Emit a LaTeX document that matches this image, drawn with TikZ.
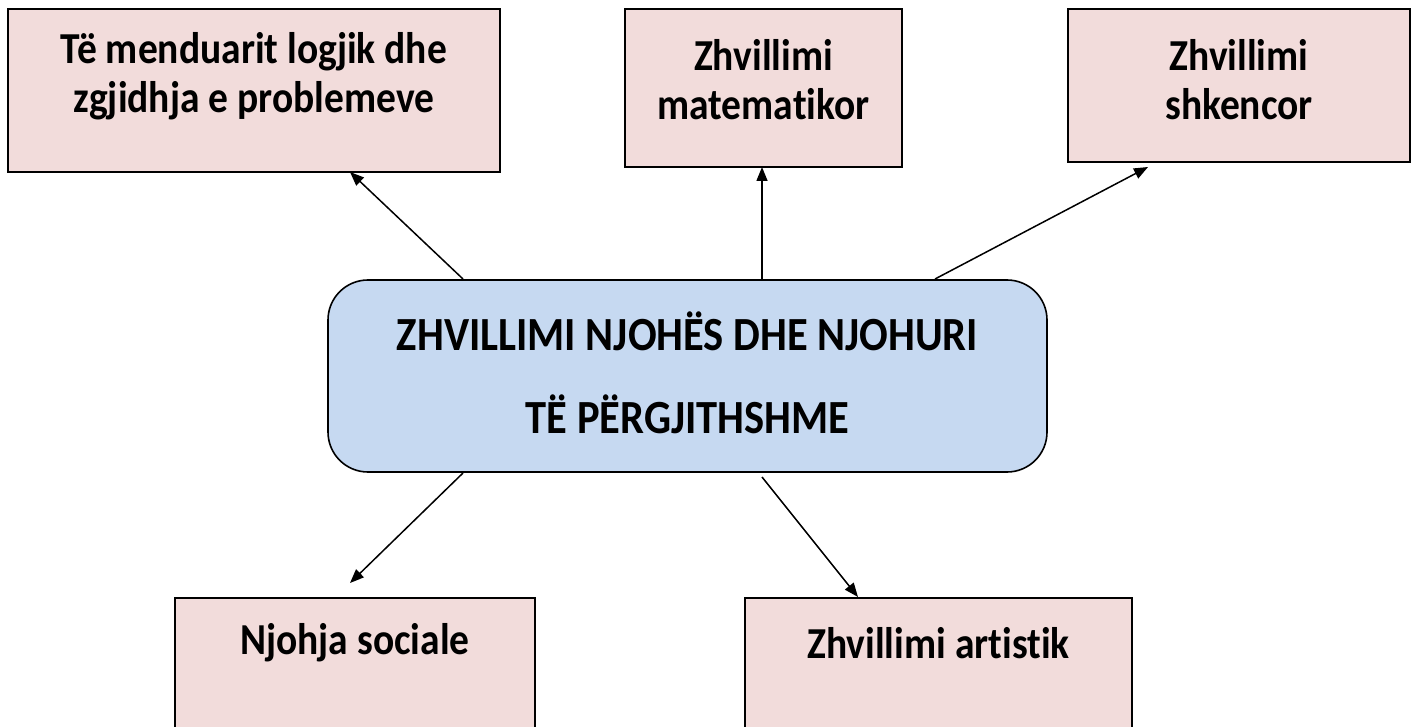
\documentclass[tikz,border=0pt]{standalone}
\usepackage{fontspec}
\setmainfont{Carlito}[Ligatures=NoCommon]
\usetikzlibrary{arrows.meta}
\definecolor{pinkfill}{HTML}{F2DCDB}
\definecolor{bluefill}{HTML}{C6D9F1}
\tikzset{
  pbox/.style={draw=black, line width=1.6pt, fill=pinkfill, rectangle, inner sep=0pt},
  cbox/.style={draw=black, line width=1.6pt, fill=bluefill, rectangle, rounded corners=40pt, inner sep=0pt},
  lbl/.style={font=\fontsize{39.5}{44}\selectfont\bfseries, align=center, inner sep=0pt, yscale=1.12, transform shape},
  clbl/.style={font=\fontsize{42.5}{74}\selectfont\bfseries, align=center, inner sep=0pt, yscale=1.12, transform shape},
  conn/.style={line width=1.5pt, -{Triangle[length=14pt,width=11pt]}}
}
\begin{document}
\begin{tikzpicture}[x=1pt,y=-1pt]
\useasboundingbox (0,0) rectangle (1418,727);
% boxes: centre, size
\node[pbox, minimum width=492pt, minimum height=163pt] (b1) at (254,90.5) {};
\node[pbox, minimum width=277pt, minimum height=158pt] (b2) at (763.5,88) {};
\node[pbox, minimum width=342pt, minimum height=153pt] (b3) at (1239,85.5) {};
\node[cbox, minimum width=719pt, minimum height=192pt] (c) at (687.5,376) {};
\node[pbox, minimum width=360pt, minimum height=160pt] (b4) at (355,678) {};
\node[pbox, minimum width=387pt, minimum height=160pt] (b5) at (938.5,678) {};
% labels
\node[lbl] (t1) at (254,76) {Të menduarit logjik dhe\\zgjidhja e problemeve};
\node[lbl] (t2) at (763.5,80) {Zhvillimi\\matematikor};
\node[lbl] (t3) at (1239,80) {Zhvillimi\\shkencor};
\node[clbl] (tc) at (687.5,373) {ZHVILLIMI NJOHËS DHE NJOHURI\\TË PËRGJITHSHME};
\node[lbl] (t4) at (355,643) {Njohja sociale};
\node[lbl] (t5) at (938.5,643) {Zhvillimi artistik};
% connector endpoints on the boxes
\coordinate (s1) at (463,279);
\coordinate (e1) at (350,172);
\coordinate (s2) at (762,279);
\coordinate (e2) at (762,167);
\coordinate (s3) at (935,279);
\coordinate (e3) at (1148,167);
\coordinate (s4) at (463,473);
\coordinate (e4) at (350,583);
\coordinate (s5) at (762,477);
\coordinate (e5) at (858,597);
\draw[conn] (s1) -- (e1);
\draw[conn] (s2) -- (e2);
\draw[conn] (s3) -- (e3);
\draw[conn] (s4) -- (e4);
\draw[conn] (s5) -- (e5);
\end{tikzpicture}
\end{document}
